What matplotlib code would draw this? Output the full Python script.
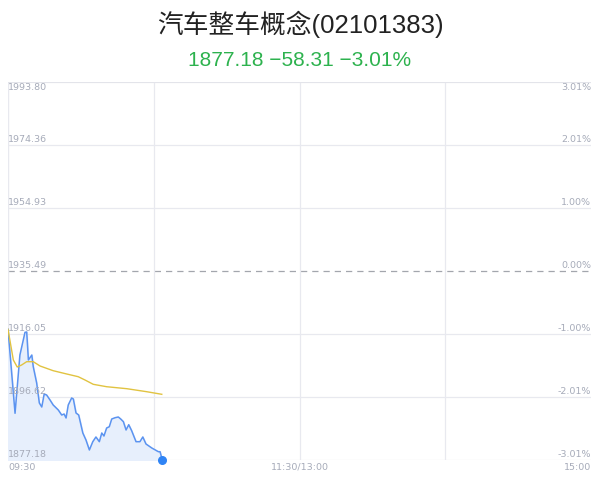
"""
汽车整车概念 分时图
"""

import matplotlib
matplotlib.use('Agg')
import matplotlib.pyplot as plt

plt.rcParams['font.family'] = ['Noto Sans CJK SC', 'DejaVu Sans']

TITLE = '汽车整车概念(02101383)'
SUBTITLE = '1877.18 −58.31 −3.01%'

PREV_CLOSE = 1935.49
price_ticks = [1877.18, 1896.62, 1916.05, 1935.49, 1954.93, 1974.36, 1993.80]
pct_labels = ['-3.01%', '-2.01%', '-1.00%', '0.00%', '1.00%', '2.01%', '3.01%']
time_labels = ['09:30', '11:30/13:00', '15:00']

# 分钟 (从 09:30 起) / 价格
price_min = [0, 2.9, 4.9, 7.0, 7.7, 8.4, 9.8, 10.4, 11.8, 12.9, 13.9, 14.9, 15.9,
             17.3, 18.6, 20.7, 22.1, 23.1, 23.9, 24.8, 26.2, 26.9, 28.0, 29.1,
             30.8, 32.1, 33.5, 34.9, 36.2, 37.6, 38.6, 39.5, 40.6, 41.7, 42.7,
             44.1, 45.4, 46.4, 47.5, 48.6, 49.7, 50.9, 52.7, 54.3, 55.5, 56.8,
             59.2, 61.9, 62.6, 63.5]
price = [1917.50, 1891.59, 1909.57, 1916.58, 1916.67, 1908.03, 1909.57, 1905.96,
         1900.94, 1894.77, 1893.53, 1897.54, 1897.23, 1895.69, 1894.15, 1892.61,
         1891.06, 1891.37, 1890.14, 1894.15, 1896.31, 1896.00, 1891.68, 1891.06,
         1885.51, 1883.35, 1880.27, 1882.83, 1884.28, 1882.83, 1885.51, 1884.58,
         1887.05, 1887.45, 1889.83, 1890.23, 1890.45, 1889.83, 1889.00, 1886.44,
         1888.07, 1886.22, 1882.83, 1882.83, 1884.28, 1882.12, 1880.88, 1879.74,
         1879.74, 1877.18]

# 均价线
avg_min = [0, 2.2, 3.8, 5.6, 7.7, 10.4, 13.2, 18.6, 24.2, 28.9, 31.7, 35.1,
           40.6, 48.9, 57.1, 63.3]
avg_price = [1917.50, 1908.03, 1905.87, 1906.49, 1907.51, 1907.51, 1906.18,
             1904.73, 1903.71, 1902.88, 1901.86, 1900.53, 1899.79, 1899.18,
             1898.25, 1897.45]

GRID = '#e8e9ef'
LABEL = '#a6abb9'

fig = plt.figure(figsize=(6, 4.83), dpi=100)
ax = fig.add_axes([8 / 600, 23 / 483, 583 / 600, 378 / 483])

ymin, ymax = price_ticks[0], price_ticks[-1]
ax.set_xlim(0, 240)
ax.set_ylim(ymin, ymax)

# 网格
for v in price_ticks:
    if v == PREV_CLOSE:
        ax.axhline(v, color='#a3a6ad', lw=0.9, ls=(0, (5, 4)), zorder=1)
    else:
        ax.axhline(v, color=GRID, lw=0.9, zorder=1)
for m in [60, 120, 180]:
    ax.axvline(m, color=GRID, lw=0.9, zorder=1)

for s in ax.spines.values():
    s.set_visible(False)
ax.axvline(0, color=GRID, lw=1.0, zorder=1)
ax.axhline(ymax, color='#e3e4ea', lw=1.2, zorder=1)
ax.set_xticks([])
ax.set_yticks([])

# 价格线
ax.fill_between(price_min, price, ymin, color='#e7effc', zorder=2)
ax.plot(price_min, price, color='#5b93f0', lw=1.1, zorder=3)
ax.plot(avg_min, avg_price, color='#e1c341', lw=1.0, zorder=3)
ax.scatter([price_min[-1]], [price[-1]], s=30, color='#2f84f5', zorder=4,
           clip_on=False)

# 坐标标签
ytr = ax.get_yaxis_transform()
for i, (v, p) in enumerate(zip(price_ticks, pct_labels)):
    va = 'top' if i == len(price_ticks) - 1 else 'bottom'
    dy = -1 if va == 'top' else 1
    ax.annotate(f'{v:.2f}', (0, v), xycoords=ytr, xytext=(0, dy),
                textcoords='offset points', ha='left', va=va, fontsize=6.8,
                color=LABEL, family='DejaVu Sans')
    ax.annotate(p, (1, v), xycoords=ytr, xytext=(0, dy),
                textcoords='offset points', ha='right', va=va, fontsize=6.8,
                color=LABEL, family='DejaVu Sans')

xtr = ax.get_xaxis_transform()
for m, t, ha in zip([0, 120, 240], time_labels, ['left', 'center', 'right']):
    ax.annotate(t, (m, 0), xycoords=xtr, xytext=(0, -2),
                textcoords='offset points', ha=ha, va='top', fontsize=6.8,
                color=LABEL, family='DejaVu Sans')

fig.text(0.5, 1 - 24 / 483, TITLE, ha='center', va='center', fontsize=18.5,
         color='#222222', family=['Liberation Sans', 'Noto Sans CJK SC'])
fig.text(0.5, 1 - 60 / 483, SUBTITLE, ha='center', va='center', fontsize=15,
         color='#2db24e', family=['Liberation Sans', 'DejaVu Sans'])

fig.savefig('out.png', dpi=100)
